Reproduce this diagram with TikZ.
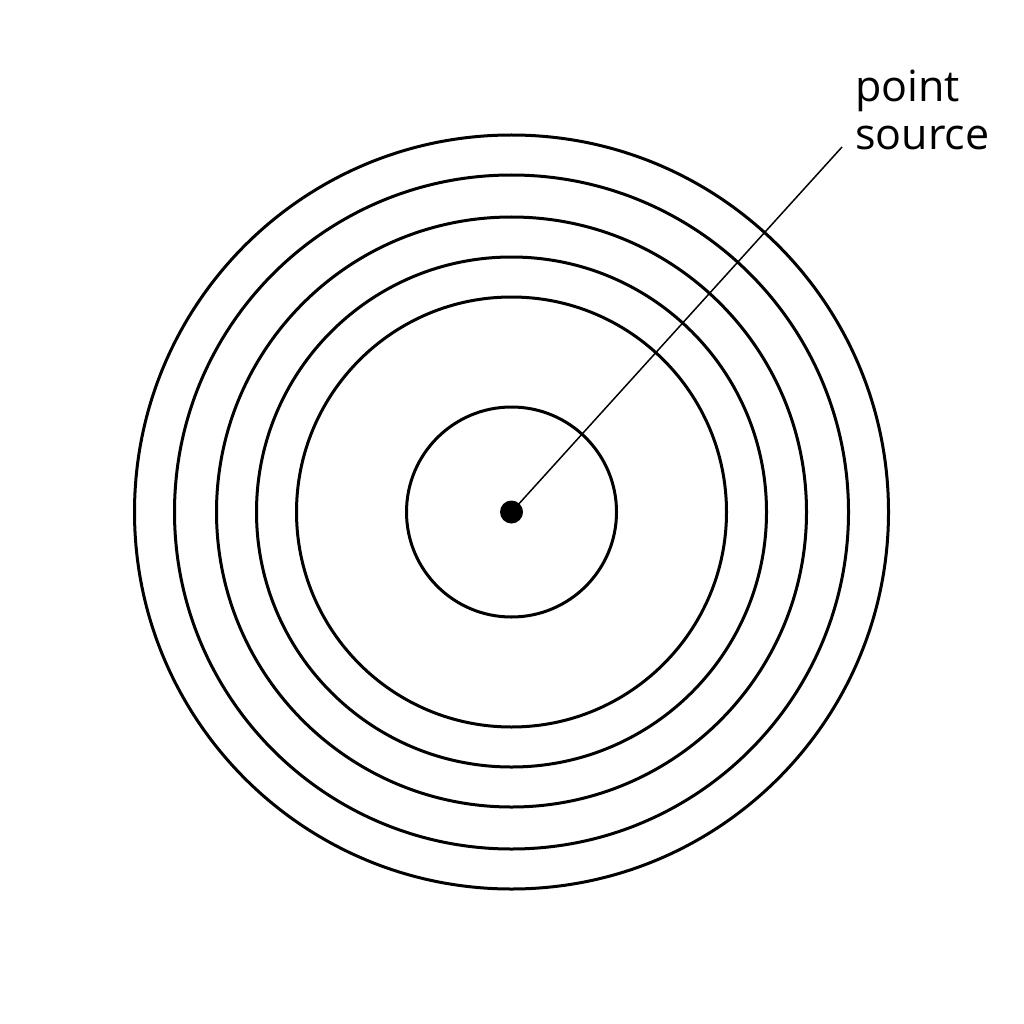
\documentclass[tikz,border=0pt]{standalone}
\usepackage{fontspec}
\setmainfont{Open Sans}
\begin{document}
\begin{tikzpicture}[x=1pt,y=-1pt,
  wave/.style={draw=black,line width=3pt},
  leader/.style={draw=black,line width=1.5pt},
  lbl/.style={align=left,inner sep=0pt,font=\fontsize{43}{48}\selectfont},
  dotsrc/.style={circle,fill=black,minimum size=23pt,inner sep=0pt}]
\useasboundingbox (0,0) rectangle (1024,1024);
\coordinate (c) at (511.5,512);
\foreach \r in {105,215,255,295,337,377} \draw[wave] (c) circle[radius=\r];
\node[dotsrc] (src) at (c) {};
\coordinate (lend) at (842,147);
\draw[leader] (src.center) -- (lend);
\node[lbl,anchor=base west] (txt) at (855,150) {point\\source};
\end{tikzpicture}
\end{document}
